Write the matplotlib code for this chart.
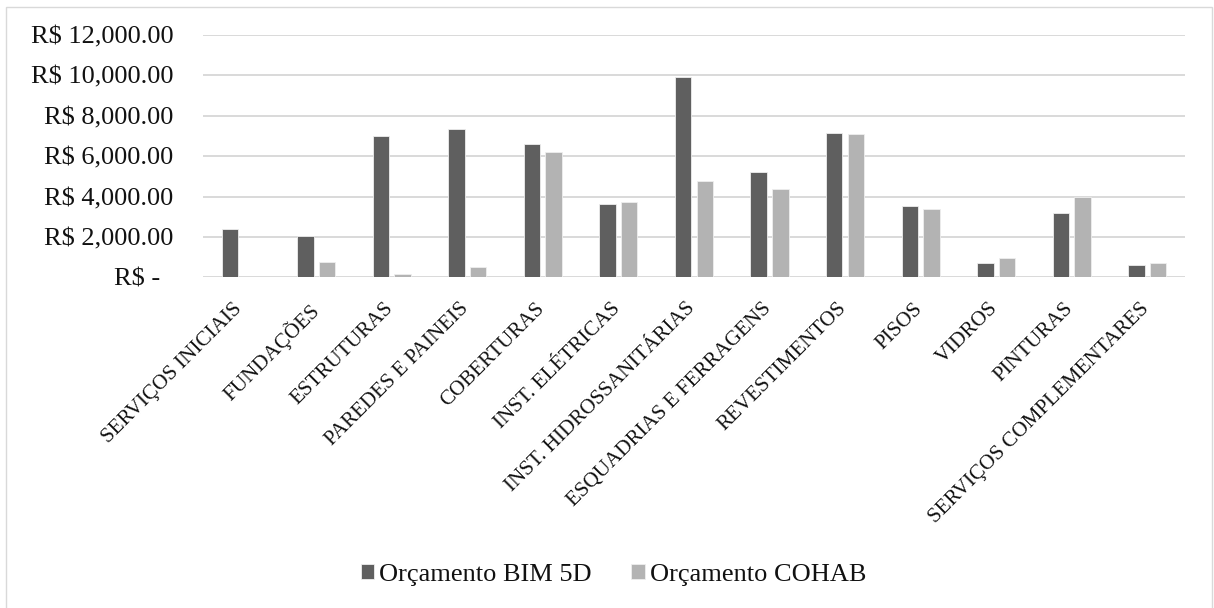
import matplotlib
matplotlib.use("Agg")
import matplotlib.pyplot as plt
from matplotlib.patches import Rectangle
from matplotlib.transforms import ScaledTranslation
import numpy as np

categories = [
    "SERVIÇOS INICIAIS", "FUNDAÇÕES", "ESTRUTURAS", "PAREDES E PAINEIS",
    "COBERTURAS", "INST. ELÉTRICAS", "INST. HIDROSSANITÁRIAS",
    "ESQUADRIAS E FERRAGENS", "REVESTIMENTOS", "PISOS", "VIDROS",
    "PINTURAS", "SERVIÇOS COMPLEMENTARES",
]
bim_5d = [2390, 2070, 6990, 7350, 6590, 3610, 9900, 5200, 7170, 3540, 700, 3160, 610]
cohab = [0, 750, 170, 500, 6210, 3730, 4750, 4370, 7100, 3360, 940, 4000, 700]
series_names = ["Orçamento BIM 5D", "Orçamento COHAB"]
y_ticks = [0, 2000, 4000, 6000, 8000, 10000, 12000]

DARK = "#5f5f5f"
LIGHT = "#b3b3b3"
GRID = "#d9d9d9"
TEXT = "#111111"

plt.rcParams["font.family"] = ["Liberation Serif", "DejaVu Serif"]

W, H = 1214, 608
fig = plt.figure(figsize=(W / 100, H / 100), dpi=100)

# chart frame
fig.patches.append(Rectangle((6 / W, -0.05), (1212 - 6) / W, 1.05 - 7 / H,
                             transform=fig.transFigure, fill=False,
                             edgecolor=GRID, linewidth=1.0))

left, right = 202.9 / W, 1185 / W
bottom, top = 1 - 277.3 / H, 1 - 35 / H
ax = fig.add_axes([left, bottom, right - left, top - bottom])

x = np.arange(len(categories))
bw = 0.218
off = 0.143
ax.bar(x - off, bim_5d, width=bw, color=DARK, edgecolor="#eeeeee",
       linewidth=0.6, label=series_names[0], zorder=3)
ax.bar(x + off, cohab, width=bw, color=LIGHT, edgecolor="#eeeeee",
       linewidth=0.6, label=series_names[1], zorder=3)

ax.set_xlim(-0.5, len(categories) - 0.5)
ax.set_ylim(0, 12000)

for v in y_ticks:
    ax.axhline(v, color=GRID, linewidth=1.4, zorder=1)

for s in ax.spines.values():
    s.set_visible(False)

def money(v):
    if v == 0:
        return "R$ -  "
    return f"R$ {v:,.2f}"

ax.set_yticks(y_ticks)
ax.set_yticklabels([money(v) for v in y_ticks], fontsize=19, color=TEXT)
ax.tick_params(axis="y", length=0, pad=21)

ax.set_xticks(x)
ax.set_xticklabels(categories, fontsize=15.2, color=TEXT, rotation=45,
                   ha="right", va="top", rotation_mode="anchor")
ax.tick_params(axis="x", length=0, pad=15)
shift = ScaledTranslation(-8 / 100, -1 / 100, fig.dpi_scale_trans)
for lbl in ax.get_xticklabels():
    lbl.set_transform(lbl.get_transform() + shift)

fig.legend(loc="center", bbox_to_anchor=(613.5 / W, 1 - 575 / H), ncol=2,
           frameon=False, fontsize=19, handlelength=0.5, handleheight=0.5,
           handletextpad=0.2, columnspacing=1.5, labelcolor=TEXT)

fig.savefig("out.png", dpi=100, facecolor="white")
